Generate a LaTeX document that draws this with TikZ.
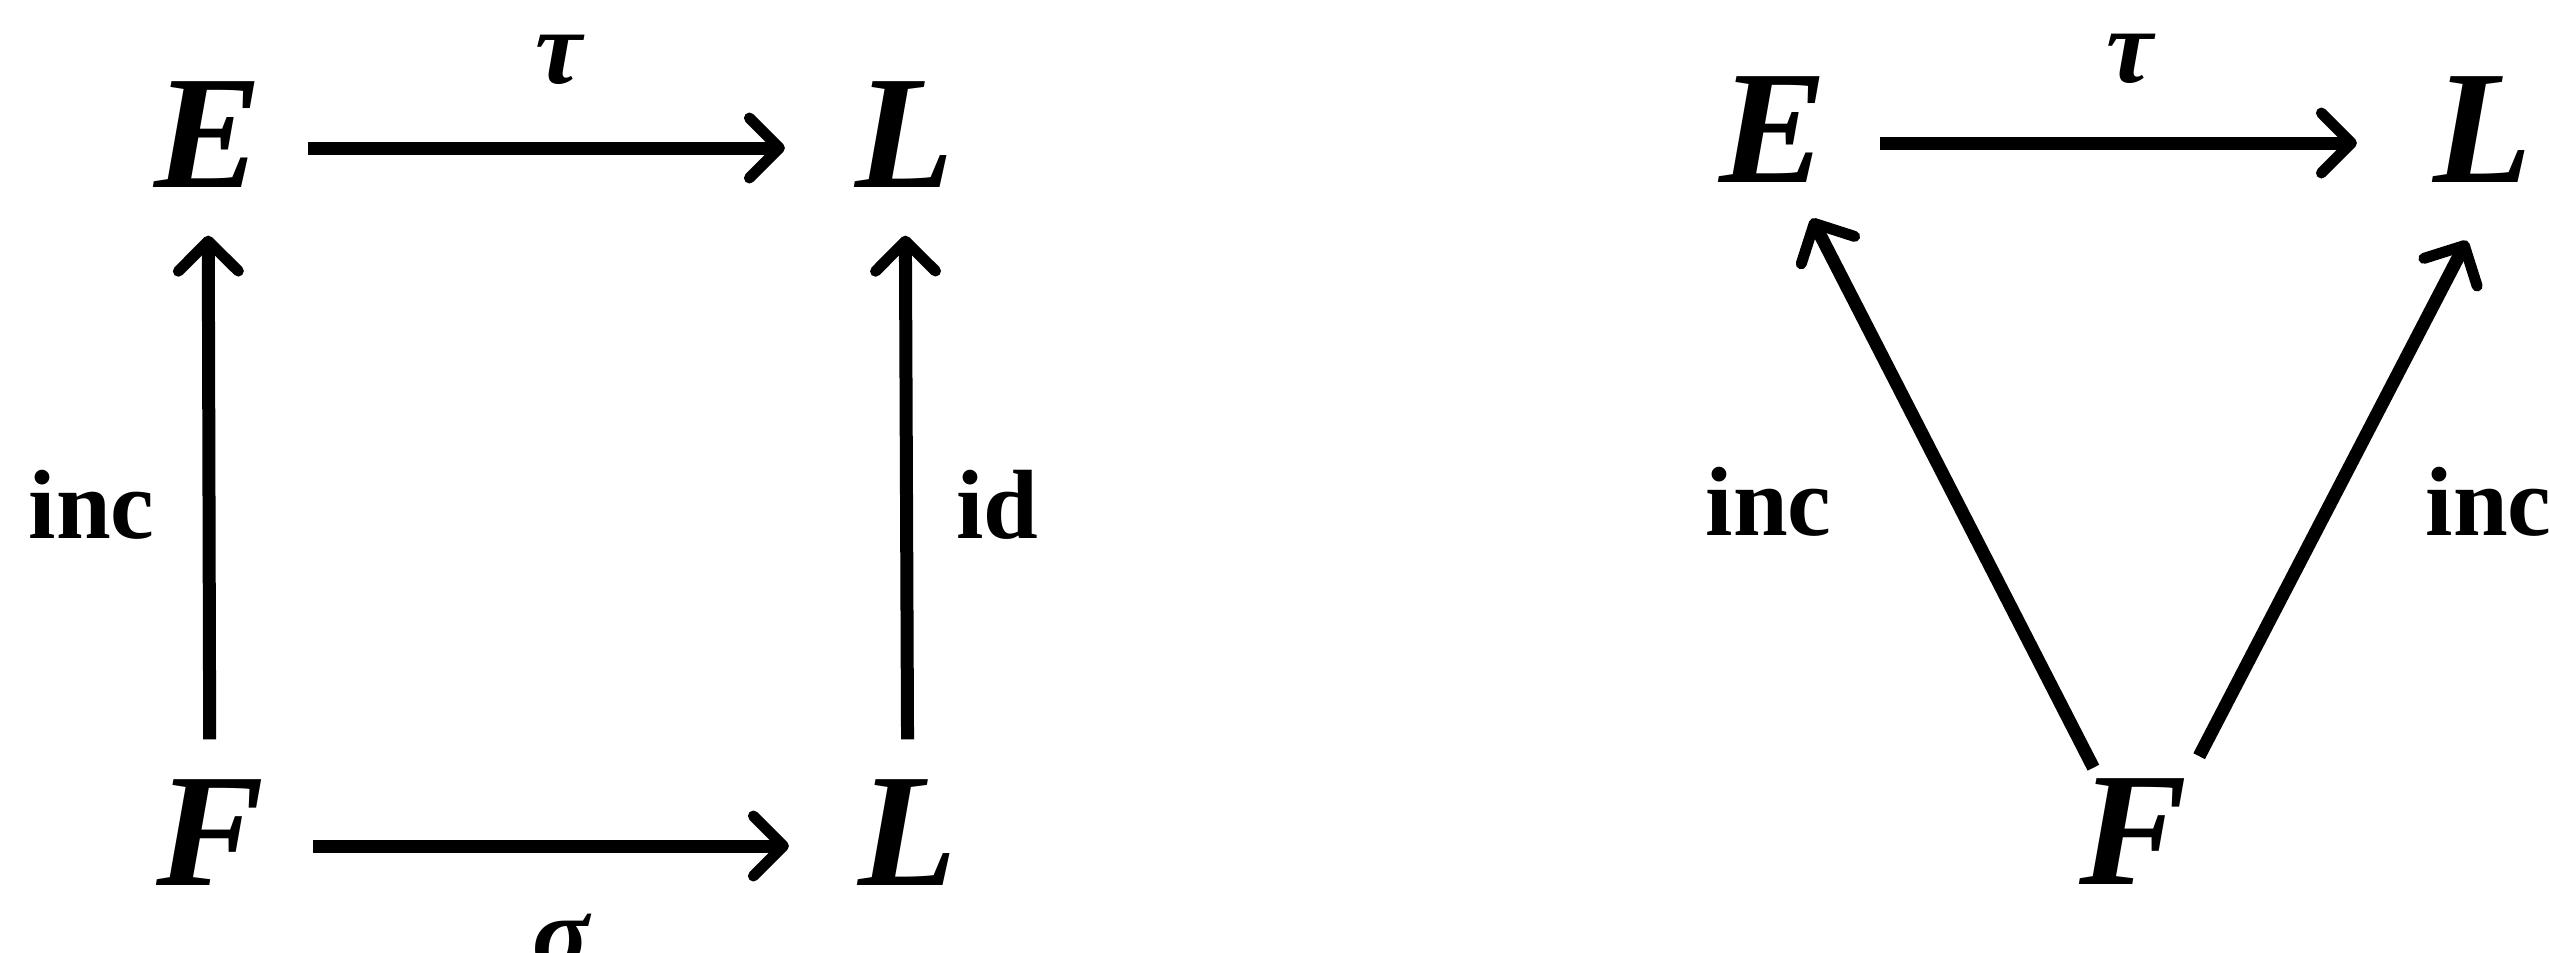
\documentclass[tikz,border=0pt]{standalone}
\usepackage{fontspec}
\setmainfont{Liberation Serif}
\usetikzlibrary{arrows.meta,positioning}

\begin{document}
\begin{tikzpicture}[auto]
\tikzstyle{obj} = [inner sep=0pt, text depth=0.26cm,
font=\fontsize{46}{50}\selectfont\bfseries\itshape]
\tikzstyle{lbl} = [inner sep=0pt, yshift=-0.08cm,
font=\fontsize{28}{30}\selectfont\bfseries]
\tikzstyle{gr} = [inner sep=0pt, font=\fontsize{30}{32}\selectfont\bfseries\itshape]
\tikzstyle{line} = [draw, line width=0.13cm,
-{Straight Barb[length=0.3cm,width=0.6cm,line width=0.11cm,round]}];

\useasboundingbox (0,0) rectangle (25.49,-9.52);

% square
\node [obj] (e1) at (2.08,-1.48) {E};
\node [obj] (l1) at (9.05,-1.48) {L};
\node [obj] (f1) at (2.10,-8.46) {F};
\node [obj] (l2) at (9.08,-8.46) {L};

% triangle
\node [obj] (e2) at (17.73,-1.43) {E};
\node [obj] (l3) at (24.83,-1.43) {L};
\node [obj] (f2) at (21.33,-8.45) {F};

\tikzstyle{every path}=[line]
\path [shorten <=0.45cm, shorten >=0.70cm] (e1) -- node [gr, above=0.57cm]{τ} (l1);
\path [shorten <=0.48cm, shorten >=0.69cm] (f1) -- node [gr, below=0.62cm]{σ} (l2);
\path [shorten <=0.40cm, shorten >=0.21cm] (f1) -- node [lbl, left=0.48cm]{inc} (e1);
\path [shorten <=0.40cm, shorten >=0.21cm] (l2) -- node [lbl, right=0.43cm]{id} (l1);

\path [shorten <=0.52cm, shorten >=0.76cm] (e2) -- node [gr, above=0.53cm]{τ} (l3);
\path [shorten <=0.12cm, shorten >=0.10cm] (f2) -- node [lbl, left=1.15cm]{inc} (e2);
\path [shorten <=0.25cm, shorten >=0.35cm] (f2.north east) -- node [lbl, right=0.84cm]{inc} (l3.south);
\end{tikzpicture}
\end{document}
